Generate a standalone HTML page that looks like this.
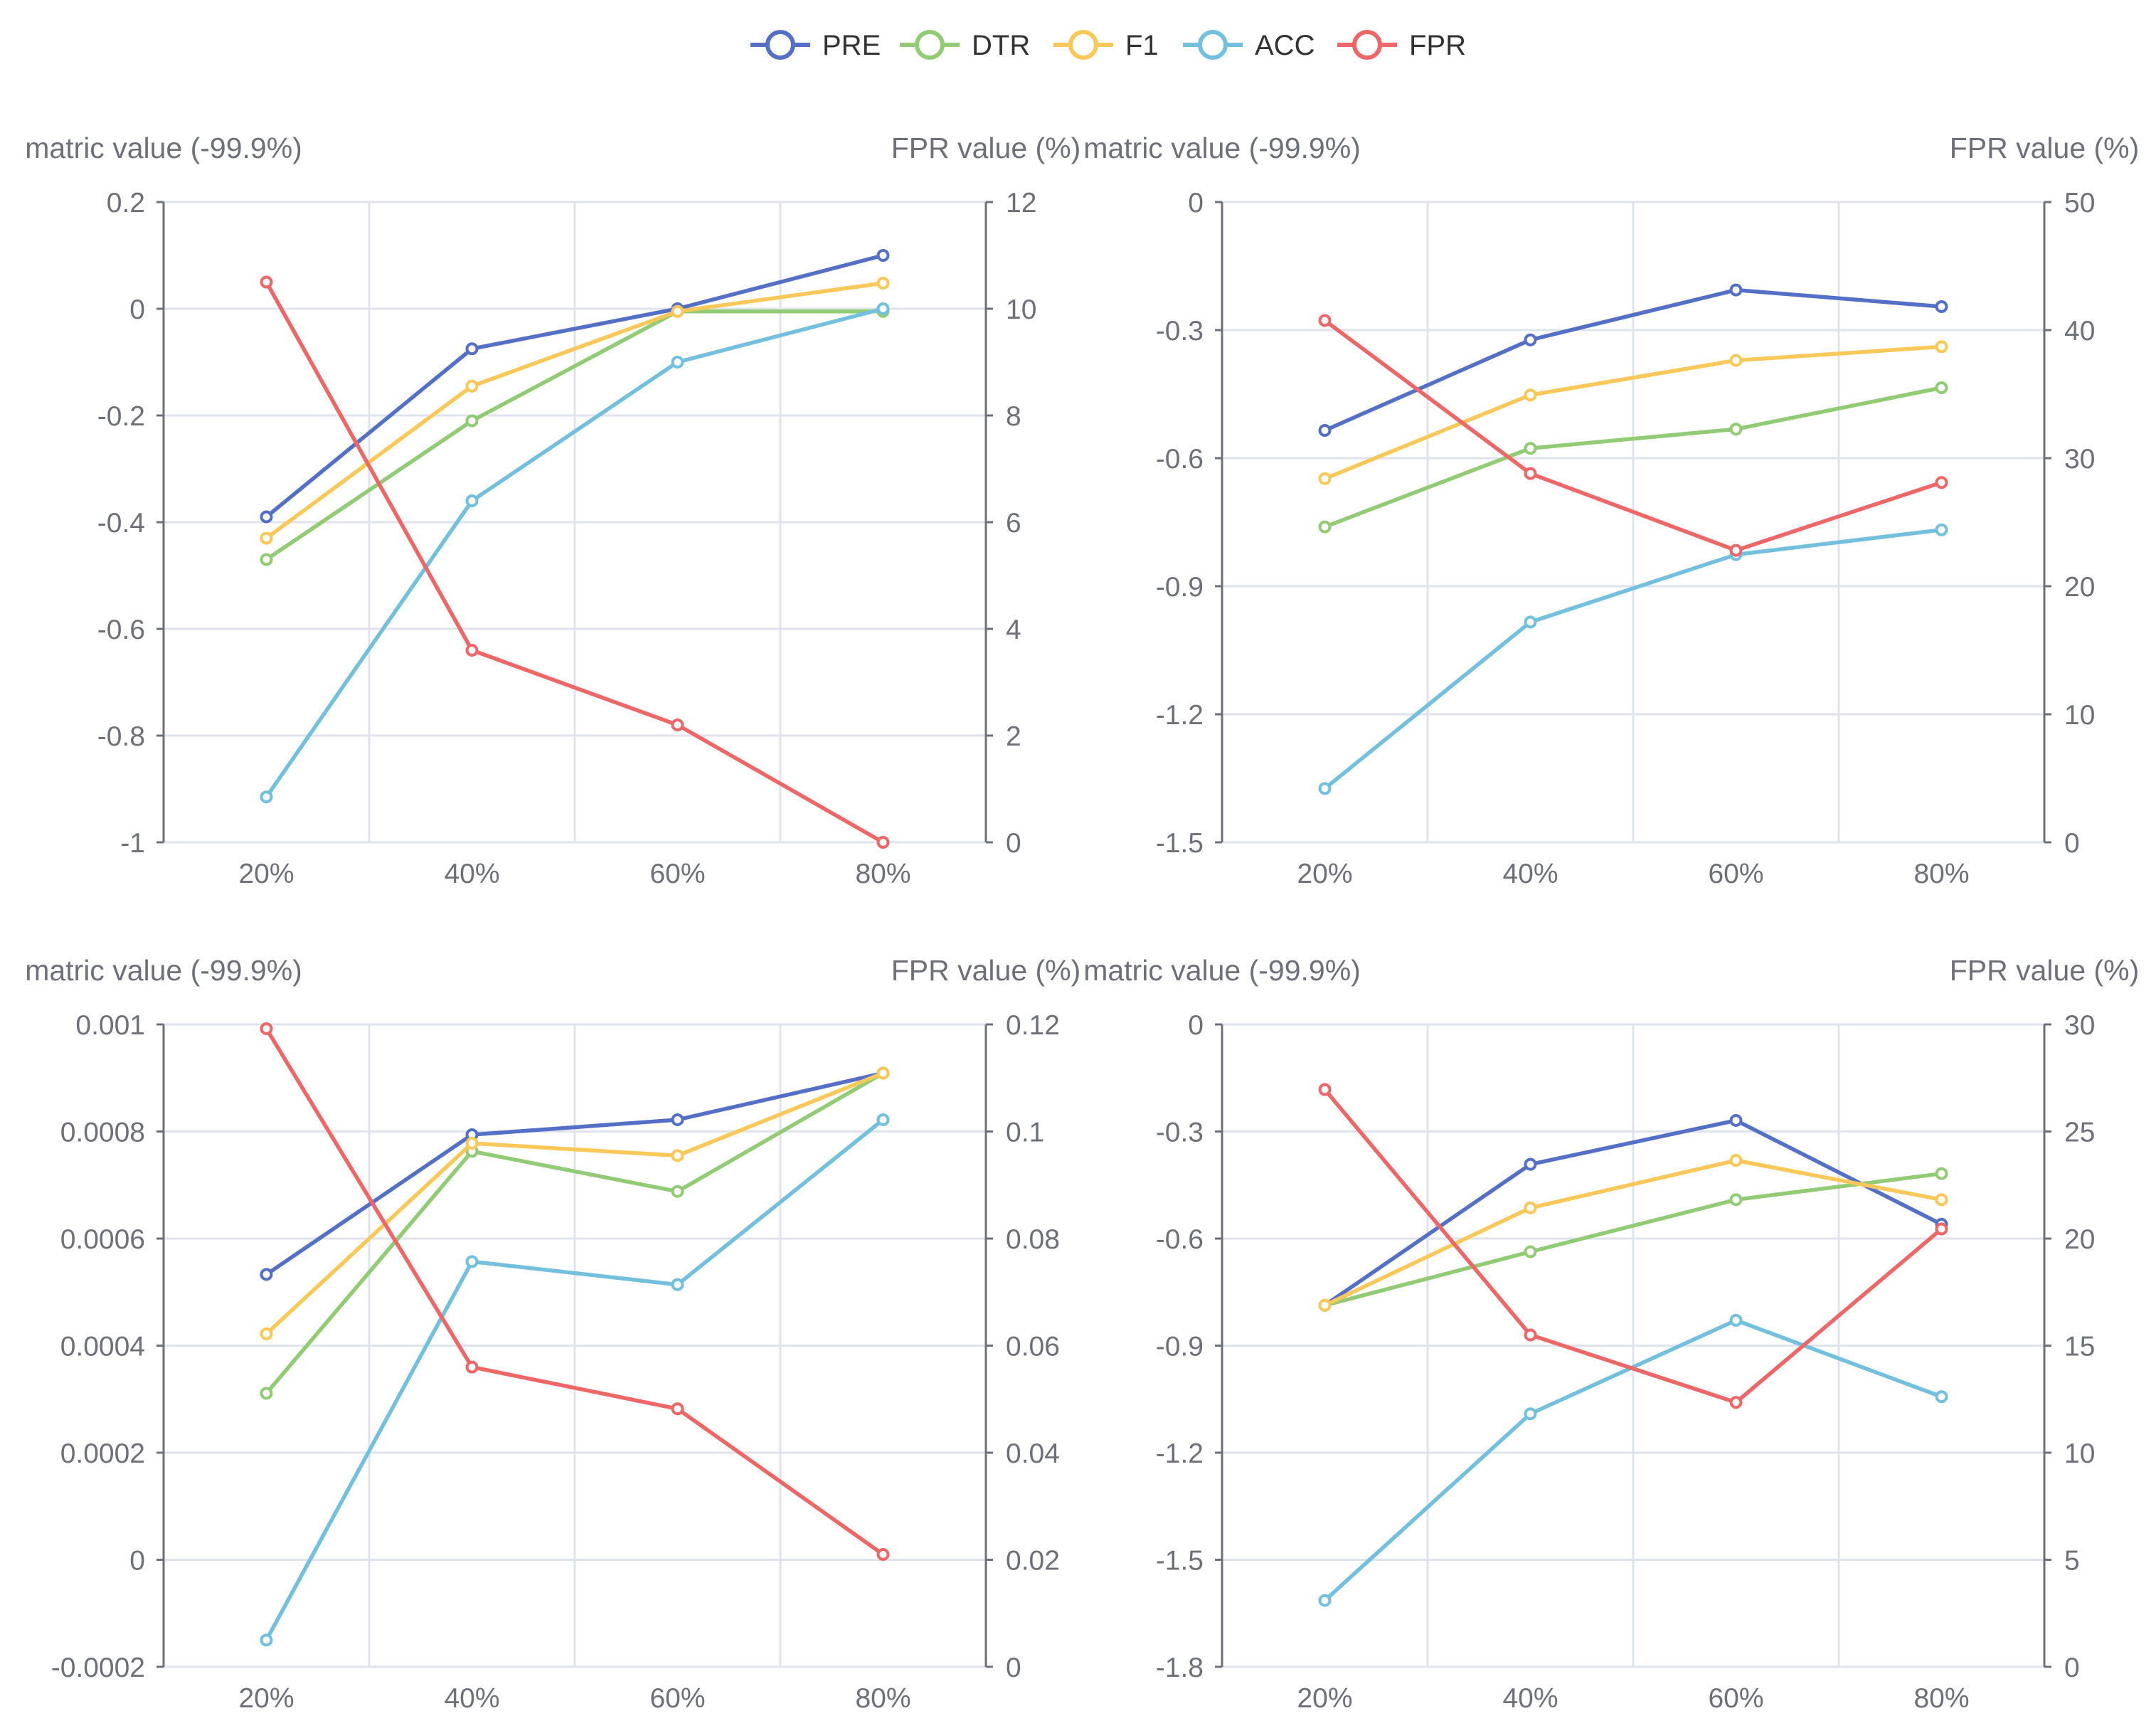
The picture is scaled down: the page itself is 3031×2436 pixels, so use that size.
<!DOCTYPE html>
<html><head><meta charset="utf-8"><style>
html,body{margin:0;padding:0;background:#fff;}
svg{display:block;font-family:"Liberation Sans",sans-serif;}
</style></head><body>
<svg id="chart" width="3031" height="2436" viewBox="0 0 3031 2436" xmlns="http://www.w3.org/2000/svg"></svg>
<script>
const categories = ["20%","40%","60%","80%"];
const seriesNames = ["PRE","DTR","F1","ACC","FPR"];
const seriesColors = ["#5470c6","#91cc75","#fac858","#73c0de","#ee6666"];

// panel 1 (top-left)
const p1Left = [0.2,0,-0.2,-0.4,-0.6,-0.8,-1];
const p1LeftLabels = ["0.2","0","-0.2","-0.4","-0.6","-0.8","-1"];
const p1Right = [12,10,8,6,4,2,0];
const p1RightLabels = ["12","10","8","6","4","2","0"];
const p1PRE = [-0.39,-0.075,0,0.1];
const p1DTR = [-0.47,-0.21,-0.005,-0.005];
const p1F1 = [-0.43,-0.145,-0.005,0.048];
const p1ACC = [-0.915,-0.36,-0.1,0];
const p1FPR = [10.5,3.6,2.2,0];

// panel 2 (top-right)
const p2Left = [0,-0.3,-0.6,-0.9,-1.2,-1.5];
const p2LeftLabels = ["0","-0.3","-0.6","-0.9","-1.2","-1.5"];
const p2Right = [50,40,30,20,10,0];
const p2RightLabels = ["50","40","30","20","10","0"];
const p2PRE = [-0.535,-0.323,-0.206,-0.245];
const p2DTR = [-0.761,-0.577,-0.532,-0.435];
const p2F1 = [-0.648,-0.452,-0.371,-0.339];
const p2ACC = [-1.374,-0.984,-0.826,-0.768];
const p2FPR = [40.75,28.8,22.8,28.1];

// panel 3 (bottom-left)
const p3Left = [0.001,0.0008,0.0006,0.0004,0.0002,0,-0.0002];
const p3LeftLabels = ["0.001","0.0008","0.0006","0.0004","0.0002","0","-0.0002"];
const p3Right = [0.12,0.1,0.08,0.06,0.04,0.02,0];
const p3RightLabels = ["0.12","0.1","0.08","0.06","0.04","0.02","0"];
const p3PRE = [0.000533,0.000794,0.000822,0.000909];
const p3DTR = [0.000311,0.000763,0.000688,0.000909];
const p3F1 = [0.000422,0.000778,0.000755,0.000909];
const p3ACC = [-0.00015,0.000557,0.000514,0.000822];
const p3FPR = [0.1192,0.056,0.0482,0.021];

// panel 4 (bottom-right)
const p4Left = [0,-0.3,-0.6,-0.9,-1.2,-1.5,-1.8];
const p4LeftLabels = ["0","-0.3","-0.6","-0.9","-1.2","-1.5","-1.8"];
const p4Right = [30,25,20,15,10,5,0];
const p4RightLabels = ["30","25","20","15","10","5","0"];
const p4PRE = [-0.787,-0.392,-0.269,-0.56];
const p4DTR = [-0.787,-0.637,-0.491,-0.418];
const p4F1 = [-0.787,-0.514,-0.381,-0.491];
const p4ACC = [-1.614,-1.091,-0.829,-1.043];
const p4FPR = [26.96,15.5,12.35,20.45];

const NS = "http://www.w3.org/2000/svg";
const svg = document.getElementById("chart");
function mk(tag, attrs, parent){
  const e = document.createElementNS(NS, tag);
  for (const k in attrs) e.setAttribute(k, attrs[k]);
  (parent||svg).appendChild(e);
  return e;
}

function drawPanel(id, box, left, leftLabels, right, rightLabels, series){
  const g = mk("g", {});
  
  
  const {x0,x1,y0,y1} = box;
  const lmax = left[0], lmin = left[left.length-1];
  const rmax = right[0], rmin = right[right.length-1];
  const yL = v => y0 + (lmax - v)/(lmax - lmin)*(y1-y0);
  const yR = v => y0 + (rmax - v)/(rmax - rmin)*(y1-y0);
  const band = (x1-x0)/categories.length;
  const xC = i => x0 + band*(i+0.5);

  const grid = mk("g", {}, g);
  
  
  left.forEach(v=>{
    mk("line",{x1:x0,x2:x1,y1:yL(v),y2:yL(v),stroke:"#dfe3ee","stroke-width":3},grid);
  });
  for(let i=1;i<categories.length;i++){
    mk("line",{x1:x0+band*i,x2:x0+band*i,y1:y0,y2:y1,stroke:"#dfe3ee","stroke-width":3},grid);
  }
  const la = mk("line",{x1:x0,x2:x0,y1:y0,y2:y1,stroke:"#6e7079","stroke-width":3},g);
  
  
  const ra = mk("line",{x1:x1,x2:x1,y1:y0,y2:y1,stroke:"#6e7079","stroke-width":3},g);
  
  

  left.forEach((v,i)=>{
    mk("line",{x1:x0-10,x2:x0,y1:yL(v),y2:yL(v),stroke:"#6e7079","stroke-width":3},g);
    const t = mk("text",{x:x0-26,y:yL(v)+14,"text-anchor":"end","font-size":39,fill:"#6e7079"},g);
    t.textContent = leftLabels[i];
    
    
  });
  right.forEach((v,i)=>{
    mk("line",{x1:x1,x2:x1+10,y1:yR(v),y2:yR(v),stroke:"#6e7079","stroke-width":3},g);
    const t = mk("text",{x:x1+28,y:yR(v)+14,"text-anchor":"start","font-size":39,fill:"#6e7079"},g);
    t.textContent = rightLabels[i];
    
    
  });
  categories.forEach((c,i)=>{
    const t = mk("text",{x:xC(i),y:y1+57,"text-anchor":"middle","font-size":39,fill:"#6e7079"},g);
    t.textContent = c;
    
    
  });
  const ln = mk("text",{x:x0,y:y0-62,"text-anchor":"middle","font-size":41,fill:"#6e7079"},g);
  ln.textContent = "matric value (-99.9%)";
  
  
  const rn = mk("text",{x:x1,y:y0-62,"text-anchor":"middle","font-size":41,fill:"#6e7079"},g);
  rn.textContent = "FPR value (%)";
  
  

  series.forEach((vals,si)=>{
    const yf = si===4 ? yR : yL;
    const sg = mk("g",{},g);
    
    
    const pts = vals.map((v,i)=>xC(i)+","+yf(v)).join(" ");
    mk("polyline",{points:pts,fill:"none",stroke:seriesColors[si],"stroke-width":5.5,"stroke-linejoin":"round"},sg);
    vals.forEach((v,i)=>{
      const c = mk("circle",{cx:xC(i),cy:yf(v),r:7,fill:"#fff",stroke:seriesColors[si],"stroke-width":4},sg);
      
      
    });
  });
}

drawPanel("panel-top-left",{x0:230,x1:1386,y0:284,y1:1184},p1Left,p1LeftLabels,p1Right,p1RightLabels,[p1PRE,p1DTR,p1F1,p1ACC,p1FPR]);
drawPanel("panel-top-right",{x0:1718,x1:2874,y0:284,y1:1184},p2Left,p2LeftLabels,p2Right,p2RightLabels,[p2PRE,p2DTR,p2F1,p2ACC,p2FPR]);
drawPanel("panel-bottom-left",{x0:230,x1:1386,y0:1440,y1:2343},p3Left,p3LeftLabels,p3Right,p3RightLabels,[p3PRE,p3DTR,p3F1,p3ACC,p3FPR]);
drawPanel("panel-bottom-right",{x0:1718,x1:2874,y0:1440,y1:2343},p4Left,p4LeftLabels,p4Right,p4RightLabels,[p4PRE,p4DTR,p4F1,p4ACC,p4FPR]);

const legendX = [1055,1265,1481,1663,1880];
const lg = mk("g",{});


seriesNames.forEach((n,i)=>{
  const it = mk("g",{},lg);
  
  
  const x = legendX[i], y = 63;
  mk("line",{x1:x,x2:x+84,y1:y,y2:y,stroke:seriesColors[i],"stroke-width":6},it);
  mk("circle",{cx:x+42,cy:y,r:18,fill:"#fff",stroke:seriesColors[i],"stroke-width":6},it);
  const t = mk("text",{x:x+101,y:y+14,"font-size":40,fill:"#333"},it);
  t.textContent = n;
});
</script>
</body></html>
